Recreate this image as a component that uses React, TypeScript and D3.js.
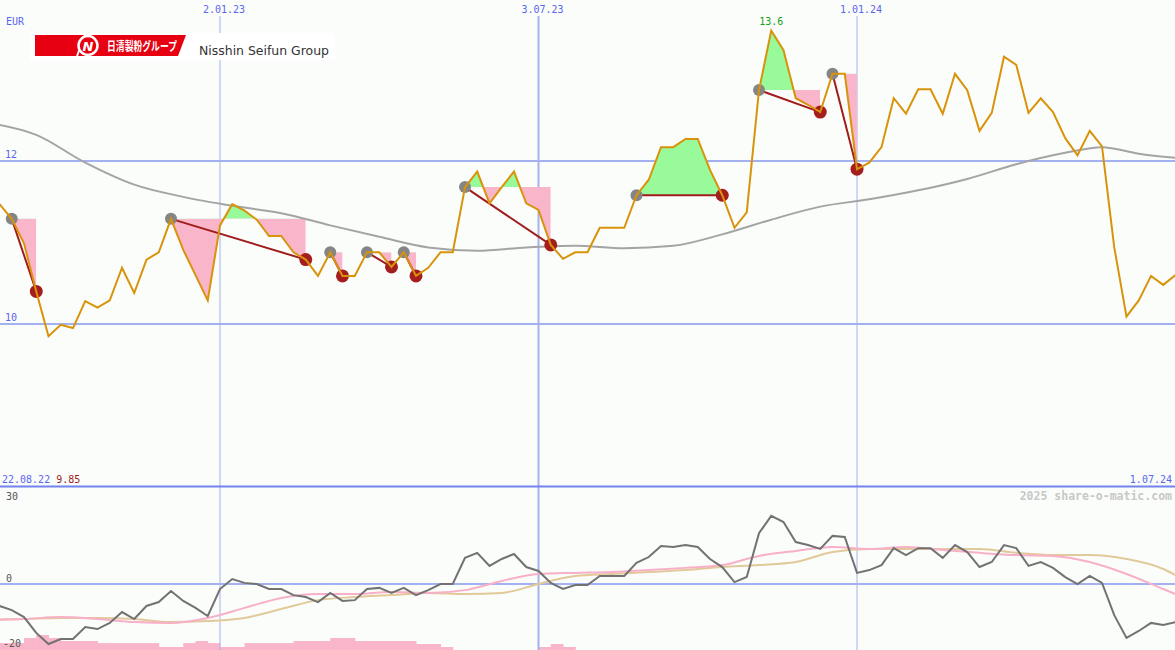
import React, { useEffect } from 'react';
import * as d3 from 'd3';

const W = 1175;
const H = 650;
const START = Date.UTC(2022, 7, 22); // first weekly quote 22.08.22

// weekly closing prices (EUR)
const price = [
  11.67, 11.47, 11.29, 10.99, 10.40, 9.85, 9.99, 9.95, 10.28, 10.20,
  10.29, 10.69, 10.38, 10.79, 10.88, 11.29, 10.91, 10.60, 10.29, 11.21,
  11.47, 11.39, 11.28, 11.08, 11.08, 10.88, 10.79, 10.59, 10.88, 10.59,
  10.59, 10.88, 10.88, 10.70, 10.88, 10.59, 10.69, 10.88, 10.88, 11.68,
  11.87, 11.48, 11.68, 11.87, 11.48, 11.40, 10.97, 10.80, 10.88, 10.88,
  11.18, 11.18, 11.18, 11.58, 11.77, 12.17, 12.17, 12.27, 12.27, 11.89,
  11.58, 11.18, 11.37, 12.87, 13.60, 13.36, 12.77, 12.69, 12.60, 13.07,
  13.07, 11.90, 11.98, 12.17, 12.77, 12.58, 12.88, 12.88, 12.58, 13.07,
  12.87, 12.37, 12.59, 13.28, 13.18, 12.59, 12.77, 12.60, 12.28, 12.07,
  12.37, 12.18, 10.94, 10.09, 10.29, 10.59, 10.48, 10.60,
];

// high -> low swings (week index of high, week index of low)
const signalHigh = [2, 15, 28, 31, 34, 39, 53, 63, 69];
const signalLow = [4, 26, 29, 33, 35, 46, 60, 68, 71];

// long moving average (sampled weeks)
const maIdx = [0, 4, 8, 12, 16, 20, 24, 28, 32, 36, 40, 44, 48, 52, 56, 60, 64, 68, 72, 76, 80, 84, 88, 91, 94, 97];
const maVal = [12.47, 12.32, 11.98, 11.71, 11.56, 11.45, 11.36, 11.21, 11.07, 10.94, 10.90, 10.94, 10.96, 10.93, 10.96, 11.10, 11.28, 11.44, 11.53, 11.64, 11.78, 11.96, 12.10, 12.17, 12.09, 12.04];

// oscillator (lower panel)
const osc = [
  -6.5, -7.9, -9.4, -11.9, -17.6, -21.6, -19.8, -19.8, -15.5, -16.2,
  -14.0, -10.1, -12.6, -7.9, -6.5, -2.5, -6.1, -8.6, -11.5, -1.8,
  1.8, 0.4, 0.0, -1.8, -1.8, -4.0, -4.7, -6.5, -3.2, -6.1,
  -5.8, -1.8, -1.4, -3.2, -1.4, -4.0, -2.2, 0.0, 0.0, 9.4,
  11.2, 6.5, 9.0, 10.8, 6.1, 4.7, 0.4, -1.8, -0.4, -0.4,
  2.9, 2.9, 2.9, 7.6, 9.7, 13.7, 13.3, 14.0, 13.3, 9.0,
  6.1, 0.7, 2.5, 18.3, 24.5, 22.3, 15.1, 14.0, 12.6, 17.3,
  16.9, 4.0, 5.0, 6.8, 12.9, 10.4, 12.9, 12.9, 9.4, 14.0,
  11.5, 6.1, 7.9, 14.0, 12.9, 6.5, 7.9, 5.8, 2.5, 0.0,
  2.9, 0.4, -11.2, -19.4, -16.9, -14.0, -14.7, -13.7,
];

// smoothed oscillator lines (sampled weeks)
const smoothIdx = [0, 3, 6, 9, 12, 15, 18, 21, 24, 27, 30, 33, 36, 39, 42, 45, 48, 51, 54, 57, 60, 63, 66, 69, 72, 75, 78, 81, 84, 87, 90, 93, 96, 97];
const pinkVal = [-12.9, -12.6, -11.9, -12.6, -13.7, -14.0, -12.2, -8.6, -5.0, -3.6, -3.6, -2.9, -3.2, -2.2, 1.1, 3.6, 4.0, 4.3, 5.0, 5.8, 6.8, 10.1, 11.9, 13.3, 12.6, 13.3, 12.2, 11.2, 10.4, 10.1, 7.9, 3.6, -1.8, -3.6];
const tanVal = [-12.9, -12.6, -12.2, -12.2, -12.6, -13.7, -13.3, -12.2, -9.0, -5.8, -4.7, -4.0, -3.2, -3.6, -3.2, 0.0, 2.9, 3.6, 4.3, 5.0, 6.1, 6.8, 7.9, 11.5, 12.6, 12.6, 12.6, 12.6, 11.2, 10.4, 10.4, 9.0, 5.4, 3.2];

// weekly volume-like bars (lower panel bottom)
const vol = [
  2.3, 2.3, 2.3, 4, 5, 4, 3, 3, 3, 2.3,
  2.3, 2.3, 2.3, 2.3, 1, 1, 2.3, 3, 2.3, 1,
  1, 2.3, 2.3, 2.3, 2.3, 3, 3, 3, 4, 4,
  3, 3, 3, 3, 3, 2, 2, 1, 0, 0,
  0, 0, 0, 0, 0, 1, 2, 1, 0, 0,
];

const tickDates = [Date.UTC(2023, 0, 2), Date.UTC(2023, 6, 3), Date.UTC(2024, 0, 1)];
const tickLabels = ['2.01.23', '3.07.23', '1.01.24'];
const tickMajor = [false, true, false];
const priceTicks = [12, 10];
const oscTicks = [30, 0, -20];

const MONO = '"DejaVu Sans Mono", monospace';
const BLUE_TXT = '#5a66ee';

export default function App() {
  useEffect(() => {
    document.body.style.margin = '0';
  }, []);

  const dates = price.map((_, i) => new Date(START + i * 7 * 864e5));
  const x = d3
    .scaleUtc()
    .domain([new Date(Date.UTC(2023, 0, 2)), new Date(Date.UTC(2024, 0, 1))])
    .range([220, 857]);
  const y = d3.scaleLinear().domain([10, 12]).range([324, 161]);
  const yo = d3.scaleLinear().domain([0, 30]).range([584, 500.6]);
  const yv = d3.scaleLinear().domain([0, 10]).range([650, 620]);

  const xi = (i: number) => x(dates[i]);

  const priceLine = d3
    .line<number>()
    .x((_, i) => xi(i))
    .y((d) => y(d))(price) as string;

  const maLine = d3
    .line<number>()
    .x((_, j) => xi(maIdx[j]))
    .y((d) => y(d))
    .curve(d3.curveMonotoneX)(maVal) as string;

  const oscLine = d3
    .line<number>()
    .x((_, i) => xi(i))
    .y((d) => yo(d))(osc) as string;

  const smoothLine = (vals: number[]) =>
    d3
      .line<number>()
      .x((_, j) => xi(smoothIdx[j]))
      .y((d) => yo(d))
      .curve(d3.curveMonotoneX)(vals) as string;

  const maxV = d3.max(price) as number;
  const maxI = price.indexOf(maxV);
  const minV = d3.min(price) as number;

  const signals = signalHigh.map((a, s) => {
    const b = signalLow[s];
    const level = price[a];
    const idx = d3.range(a, b + 1);
    const area = d3
      .area<number>()
      .x((i) => xi(i))
      .y0(y(level))
      .y1((i) => y(price[i]))(idx) as string;
    return { a, b, level, area };
  });

  return (
    <svg
      width={W}
      height={H}
      style={{ display: 'block', position: 'absolute', left: 0, top: 0 }}
      xmlns="http://www.w3.org/2000/svg"
    >
      <defs>
        {signals.map((s, k) => (
          <React.Fragment key={k}>
            <clipPath id={`up${k}`}>
              <rect x={xi(s.a)} y={0} width={xi(s.b) - xi(s.a)} height={y(s.level)} />
            </clipPath>
            <clipPath id={`dn${k}`}>
              <rect x={xi(s.a)} y={y(s.level)} width={xi(s.b) - xi(s.a)} height={487 - y(s.level)} />
            </clipPath>
          </React.Fragment>
        ))}
        <clipPath id="mainClip">
          <rect x={0} y={0} width={W} height={486} />
        </clipPath>
        <clipPath id="lowClip">
          <rect x={0} y={488} width={W} height={H - 488} />
        </clipPath>
      </defs>

      <rect x={0} y={0} width={W} height={H} fill="#fbfdfb" />

      {/* volume bars */}
      <g clipPath="url(#lowClip)">
        {vol.map((v, i) =>
          v > 0 ? (
            <rect
              key={i}
              x={xi(i)}
              y={yv(v)}
              width={xi(i + 1) - xi(i) + 0.5}
              height={yv(0) - yv(v)}
              fill="#f9b5c9"
            />
          ) : null
        )}
      </g>

      {/* horizontal grid */}
      {priceTicks.map((t) => (
        <line key={t} x1={0} x2={W} y1={y(t)} y2={y(t)} stroke="#a3b1f2" strokeWidth={2} />
      ))}
      <line x1={0} x2={W} y1={yo(0)} y2={yo(0)} stroke="#a3b1f2" strokeWidth={2} />

      {/* vertical date lines */}
      {tickDates.map((t, k) => (
        <line
          key={t}
          x1={x(new Date(t))}
          x2={x(new Date(t))}
          y1={16}
          y2={H}
          stroke="#a6b2ec"
          strokeWidth={tickMajor[k] ? 2 : 1}
        />
      ))}

      {/* panel separator */}
      <line x1={0} x2={W} y1={486.5} y2={486.5} stroke="#7282ee" strokeWidth={2} />

      {/* swing fills */}
      <g clipPath="url(#mainClip)">
        {signals.map((s, k) => (
          <React.Fragment key={k}>
            <path d={s.area} fill="#98fa98" clipPath={`url(#up${k})`} />
            <path d={s.area} fill="#f9b5c9" clipPath={`url(#dn${k})`} />
          </React.Fragment>
        ))}

        {/* long moving average */}
        <path d={maLine} fill="none" stroke="#a4a4a4" strokeWidth={2} />

        {/* swing connectors & markers */}
        {signals.map((s, k) => (
          <line
            key={k}
            x1={xi(s.a)}
            y1={y(price[s.a])}
            x2={xi(s.b)}
            y2={y(price[s.b])}
            stroke="#a01c1c"
            strokeWidth={2}
          />
        ))}
        {signals.map((s, k) => (
          <React.Fragment key={k}>
            <circle cx={xi(s.a)} cy={y(price[s.a])} r={6} fill="#858585" />
            <circle cx={xi(s.b)} cy={y(price[s.b])} r={6.5} fill="#a41e1e" />
          </React.Fragment>
        ))}

        {/* price */}
        <path d={priceLine} fill="none" stroke="#d9930b" strokeWidth={2} strokeLinejoin="miter" />
      </g>

      {/* lower panel lines */}
      <g clipPath="url(#lowClip)">
        <path d={smoothLine(tanVal)} fill="none" stroke="#e2c99a" strokeWidth={2} />
        <path d={smoothLine(pinkVal)} fill="none" stroke="#f8b0c8" strokeWidth={2} />
        <path d={oscLine} fill="none" stroke="#727272" strokeWidth={2} />
      </g>

      {/* logo */}
      <rect x={30} y={33} width={305} height={27} fill="#ffffff" />
      <polygon points="35,35 186,35 178,56 35,56" fill="#e60012" />
      <line x1={77} y1={56} x2={85} y2={35} stroke="#ffffff" strokeWidth={2} />
      <circle cx={88} cy={45.5} r={9.5} fill="#e60012" stroke="#ffffff" strokeWidth={2.5} />
      <text
        x={88}
        y={50.5}
        textAnchor="middle"
        fontFamily='"DejaVu Sans", sans-serif'
        fontStyle="italic"
        fontWeight="bold"
        fontSize={13}
        fill="#ffffff"
      >
        N
      </text>
      <text
        x={107}
        y={51}
        fontFamily='"Noto Sans CJK JP", sans-serif'
        fontWeight="bold"
        fontSize={12}
        fill="#ffffff"
        textLength={70}
        lengthAdjust="spacingAndGlyphs"
      >
        日清製粉グループ
      </text>
      <text
        x={199}
        y={55}
        fontFamily='"DejaVu Sans", sans-serif'
        fontSize={13}
        fill="#333333"
        textLength={130}
        lengthAdjust="spacingAndGlyphs"
      >
        Nisshin Seifun Group
      </text>

      {/* texts */}
      <text x={6} y={25} fontFamily={MONO} fontSize={10} fill={BLUE_TXT}>
        EUR
      </text>
      {tickDates.map((t, k) => (
        <text
          key={t}
          x={x(new Date(t)) + 4}
          y={13}
          textAnchor="middle"
          fontFamily={MONO}
          fontSize={10}
          fill={BLUE_TXT}
        >
          {tickLabels[k]}
        </text>
      ))}
      {priceTicks.map((t) => (
        <text key={t} x={5} y={y(t) - 3} fontFamily={MONO} fontSize={10} fill={BLUE_TXT}>
          {t}
        </text>
      ))}
      <text
        x={xi(maxI)}
        y={25}
        textAnchor="middle"
        fontFamily={MONO}
        fontSize={10}
        fill="#18a018"
      >
        {maxV.toFixed(1)}
      </text>
      <text x={2} y={483} fontFamily={MONO} fontSize={10}>
        <tspan fill={BLUE_TXT}>{d3.utcFormat('%d.%m.%y')(dates[0])}</tspan>
        <tspan fill="#a01c1c" dx={6}>
          {minV.toFixed(2)}
        </tspan>
      </text>
      <text x={1172} y={483} textAnchor="end" fontFamily={MONO} fontSize={10} fill={BLUE_TXT}>
        {d3.utcFormat('%-d.%m.%y')(dates[dates.length - 1])}
      </text>
      <text
        x={1172}
        y={500}
        textAnchor="end"
        fontFamily={MONO}
        fontWeight="bold"
        fontSize={11.5}
        fill="#c8c8c8"
      >
        2025 share-o-matic.com
      </text>
      {oscTicks.map((t) => (
        <text
          key={t}
          x={t < 0 ? 3 : 6}
          y={t === 30 ? 500 : t === 0 ? 582 : 647}
          fontFamily={MONO}
          fontSize={10}
          fill="#555555"
        >
          {t}
        </text>
      ))}
    </svg>
  );
}
